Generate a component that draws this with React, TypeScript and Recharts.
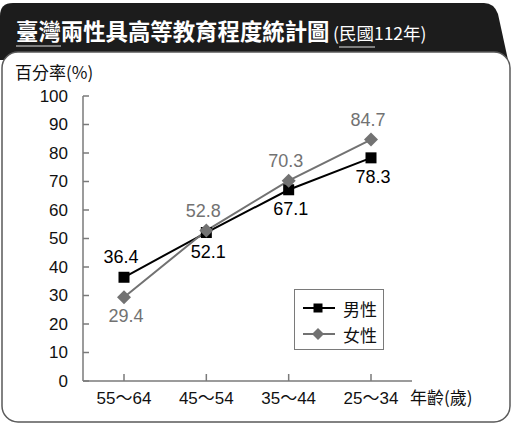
import { LineChart, Line, XAxis, YAxis, LabelList, Legend } from 'recharts';

// 年齡組別（橫軸）
const ageGroups = ['55～64', '45～54', '35～44', '25～34'];
// 具高等教育程度百分率（%）
const maleRates = [36.4, 52.1, 67.1, 78.3];
const femaleRates = [29.4, 52.8, 70.3, 84.7];
const yTicks = [0, 10, 20, 30, 40, 50, 60, 70, 80, 90, 100];
const seriesOrder = ['male', 'female'];

const data = ageGroups.map((age, i) => ({ age, male: maleRates[i], female: femaleRates[i] }));

const NUM_FONT = '"Liberation Sans", "Noto Sans CJK TC", sans-serif';
const CJK_FONT = '"Noto Sans CJK TC", "Liberation Sans", sans-serif';
const MALE_COLOR = '#000000';
const FEMALE_COLOR = '#727272';
const AXIS_COLOR = '#7a7a7a';

const SquareDot = (props: any) => {
  const { cx, cy } = props;
  if (cx == null || cy == null) return null;
  return <rect x={cx - 5.5} y={cy - 5.5} width={11} height={11} fill={MALE_COLOR} />;
};

const DiamondDot = (props: any) => {
  const { cx, cy } = props;
  if (cx == null || cy == null) return null;
  const r = 7;
  return (
    <polygon
      points={`${cx},${cy - r} ${cx + r},${cy} ${cx},${cy + r} ${cx - r},${cy}`}
      fill={FEMALE_COLOR}
    />
  );
};

// label goes above the point when this series is the higher one, below otherwise
const makeLabel = (own: number[], other: number[], color: string) => (props: any) => {
  const { x, y, value, index } = props;
  const above = own[index] > other[index];
  return (
    <text
      x={x + (above ? -3 : 2)}
      y={y + (above ? -20 : 19)}
      textAnchor="middle"
      dominantBaseline="central"
      fill={color}
      fontSize={18}
      fontFamily={NUM_FONT}
    >
      {value}
    </text>
  );
};

const YTick = (props: any) => {
  const { x, y, payload } = props;
  return (
    <g>
      <line x1={x} x2={x + 6} y1={y} y2={y} stroke={AXIS_COLOR} strokeWidth={1.5} />
      <text x={x - 15} y={y} textAnchor="end" dominantBaseline="central" fontSize={17} fontFamily={NUM_FONT} fill="#111">
        {payload.value}
      </text>
    </g>
  );
};

const XTick = (props: any) => {
  const { x, y, payload } = props;
  return (
    <g>
      <line x1={x} x2={x} y1={y} y2={y - 7} stroke={AXIS_COLOR} strokeWidth={1.5} />
      <text x={x} y={y + 17} textAnchor="middle" dominantBaseline="central" fontSize={17} fontFamily={NUM_FONT} fill="#111">
        {payload.value}
      </text>
    </g>
  );
};

const LegendBox = (props: any) => {
  const payload = [...(props.payload || [])].sort(
    (a: any, b: any) => seriesOrder.indexOf(a.dataKey) - seriesOrder.indexOf(b.dataKey),
  );
  return (
    <div
      style={{
        width: 90,
        height: 61,
        border: `1.5px solid ${AXIS_COLOR}`,
        background: '#fff',
        boxSizing: 'border-box',
        paddingTop: 5,
      }}
    >
      {payload.map((item: any) => (
        <div key={item.dataKey} style={{ display: 'flex', alignItems: 'center', height: 26 }}>
          <svg width={40} height={16} style={{ marginLeft: 6 }}>
            <line x1={2} x2={34} y1={8} y2={8} stroke={item.color} strokeWidth={2} />
            {item.dataKey === 'male' ? (
              <rect x={12.5} y={3.5} width={9} height={9} fill={item.color} />
            ) : (
              <polygon points="17,2 23,8 17,14 11,8" fill={item.color} />
            )}
          </svg>
          <span style={{ fontFamily: CJK_FONT, fontSize: 17, color: '#111', marginLeft: 2 }}>{item.value}</span>
        </div>
      ))}
    </div>
  );
};

export default function App() {
  return (
    <div style={{ position: 'absolute', left: 0, top: 0, width: 520, height: 433, background: '#fff', overflow: 'hidden' }}>
      <svg width={520} height={433} style={{ position: 'absolute', left: 0, top: 0 }}>
        <path d="M0,60 L0,16 Q0,3 13,3 L484,3 Q494,3 498,14 L508,60 Z" fill="#1c1c1c" />
        <rect x={2} y={52} width={508} height={370} rx={16} fill="#fff" stroke="#5a5a5a" strokeWidth={1.5} />
        <text x={16} y={40} fill="#fff" fontSize={22.4} fontWeight="bold" fontFamily={CJK_FONT}>
          臺灣兩性具高等教育程度統計圖
        </text>
        <text x={333} y={40} fill="#fff" fontSize={17.5} fontFamily={CJK_FONT}>
          (民國112年)
        </text>
        <line x1={16} x2={61} y1={46} y2={46} stroke="#a0a0a0" strokeWidth={1.5} />
        <line x1={339} x2={375} y1={47} y2={47} stroke="#a0a0a0" strokeWidth={1.5} />
        <text x={15} y={79} fill="#111" fontSize={17} fontFamily={CJK_FONT}>
          百分率(%)
        </text>
        <text x={410} y={404} fill="#111" fontSize={17} fontFamily={CJK_FONT}>
          年齡(歲)
        </text>
      </svg>
      <div style={{ position: 'absolute', left: 0, top: 0 }}>
        <LineChart width={520} height={433} data={data} margin={{ top: 96, right: 108, bottom: 22, left: 23 }}>
          <XAxis
            dataKey="age"
            height={30}
            padding={{ left: 41, right: 41 }}
            axisLine={{ stroke: AXIS_COLOR, strokeWidth: 1.5 }}
            tickLine={false}
            tickSize={0}
            tickMargin={0}
            tick={<XTick />}
          />
          <XAxis
            xAxisId="top"
            orientation="top"
            dataKey="age"
            height={0}
            padding={{ left: 41, right: 41 }}
            axisLine={{ stroke: AXIS_COLOR, strokeWidth: 1.5 }}
            tickLine={false}
            tick={false}
          />
          <YAxis
            domain={[0, 100]}
            ticks={yTicks}
            width={60}
            axisLine={{ stroke: AXIS_COLOR, strokeWidth: 1.5 }}
            tickLine={false}
            tickSize={0}
            tickMargin={0}
            tick={<YTick />}
            interval={0}
          />
          <YAxis
            yAxisId="right"
            orientation="right"
            domain={[0, 100]}
            width={0}
            axisLine={{ stroke: AXIS_COLOR, strokeWidth: 1.5 }}
            tickLine={false}
            tick={false}
          />
          <Legend
            layout="vertical"
            align="center"
            verticalAlign="middle"
            content={<LegendBox />}
            wrapperStyle={{ left: 294, top: 289, width: 92, height: 63 }}
          />
          <Line
            dataKey="male"
            name="男性"
            stroke={MALE_COLOR}
            strokeWidth={2}
            dot={<SquareDot />}
            activeDot={false}
            isAnimationActive={false}
          >
            <LabelList dataKey="male" content={makeLabel(maleRates, femaleRates, MALE_COLOR)} />
          </Line>
          <Line
            dataKey="female"
            name="女性"
            stroke={FEMALE_COLOR}
            strokeWidth={2}
            dot={<DiamondDot />}
            activeDot={false}
            isAnimationActive={false}
          >
            <LabelList dataKey="female" content={makeLabel(femaleRates, maleRates, FEMALE_COLOR)} />
          </Line>
        </LineChart>
      </div>
    </div>
  );
}
